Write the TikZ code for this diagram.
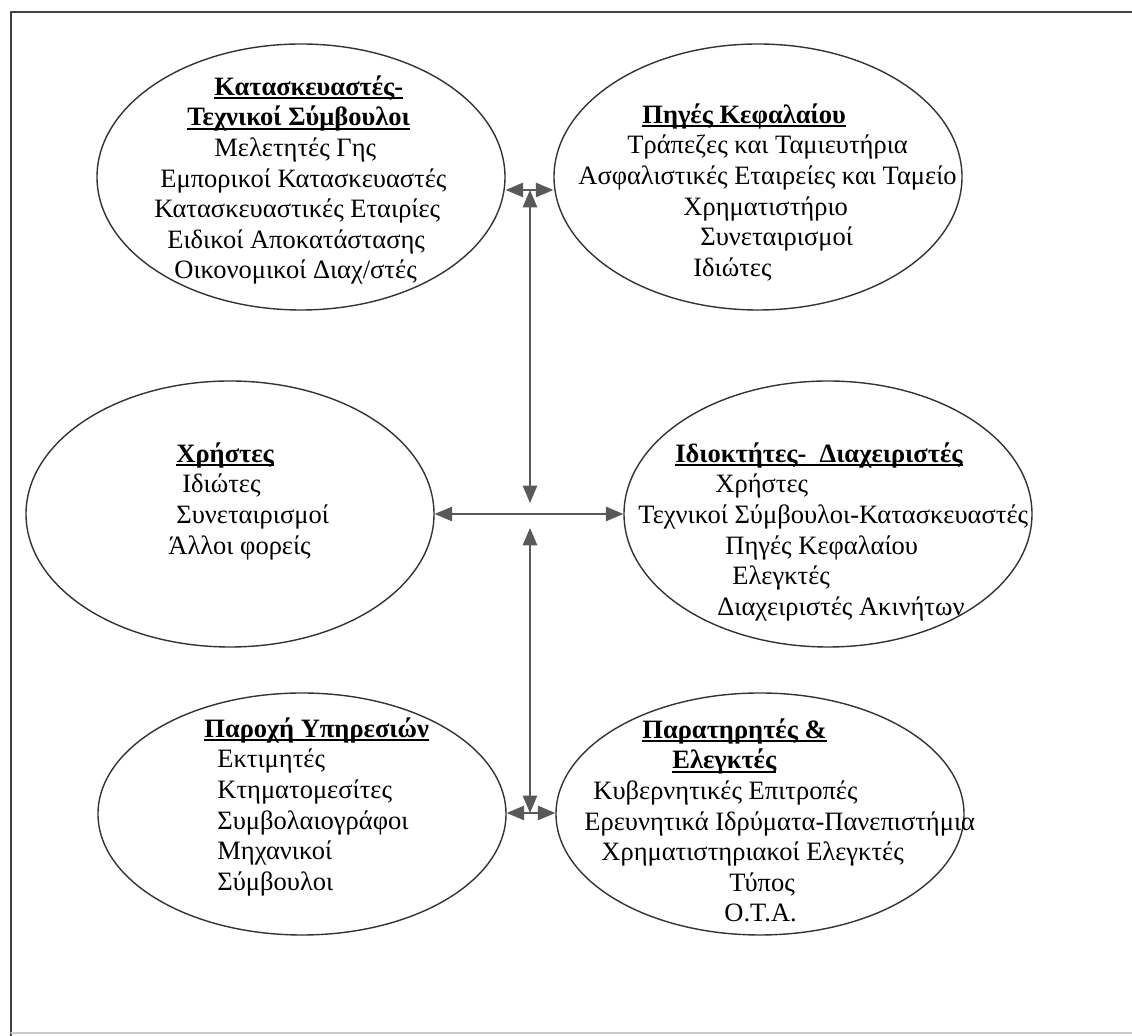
\documentclass[tikz,border=0pt]{standalone}
\usepackage{fontspec}
\setmainfont{Liberation Serif}
\usetikzlibrary{arrows}
\usetikzlibrary{shapes.geometric}
\newcommand{\headul}[1]{\setbox0=\hbox{\bfseries #1}\rlap{\rule[-2pt]{\wd0}{1pt}}\box0}
\newcommand{\topstrut}{\rule{0pt}{10pt}}

\begin{document}
\begin{tikzpicture}[line cap=round,line join=round,>=triangle 45,x=0.5pt,y=-0.5pt,
  oval/.style={ellipse,draw=black!80,line width=0.7pt,inner sep=0pt,minimum width=204pt,minimum height=133pt},
  lines/.style={anchor=north west,align=left,inner sep=0pt,font=\fontsize{13.25}{15.3}\selectfont},
  link/.style={<->,draw=black!65,line width=1pt}]
\useasboundingbox (0,0) rectangle (1132,1036);
\draw[black!75,line width=1pt] (1132,12)--(11,12)--(11,1036);
\draw[black!20,line width=0.6pt] (11,1033)--(1132,1033);
% ellipses
\node[oval] (e1) at (301,177) {};
\node[oval] (e2) at (758,177) {};
\node[oval] (e3) at (230,514) {};
\node[oval] (e4) at (828,514) {};
\node[oval,minimum height=121pt] (e5) at (302,814) {};
\node[oval,minimum height=121pt] (e6) at (760,814) {};
% texts
\node[lines] (t1) at (154,75) {\hspace*{30pt}\topstrut\headul{Κατασκευαστές-}\\
  \hspace*{16.5pt}\headul{Τεχνικοί Σύμβουλοι}\\
  \hspace*{30pt}Μελετητές Γης\\
  \hspace*{3pt}Εμπορικοί Κατασκευαστές\\
  Κατασκευαστικές Εταιρίες\\
  \hspace*{6.5pt}Ειδικοί Αποκατάστασης\\
  \hspace*{10pt}Οικονομικοί Διαχ/στές};
\node[lines] (t2) at (578,103) {\hspace*{32pt}\topstrut\headul{Πηγές Κεφαλαίου}\\
  \hspace*{24.5pt}Τράπεζες και Ταμιευτήρια\\
  Ασφαλιστικές Εταιρείες και Ταμείο\\
  \hspace*{52.5pt}Χρηματιστήριο\\
  \hspace*{61pt}Συνεταιρισμοί\\
  \hspace*{57.5pt}Ιδιώτες};
\node[lines] (t3) at (168,442) {\hspace*{4pt}\topstrut\headul{Χρήστες}\\
  \hspace*{7pt}Ιδιώτες\\
  \hspace*{4pt}Συνεταιρισμοί\\
  Άλλοι φορείς};
\node[lines] (t4) at (638,442) {\hspace*{18.5pt}\topstrut\headul{Ιδιοκτήτες-\ \ Διαχειριστές}\\
  \hspace*{38.5pt}Χρήστες\\
  Τεχνικοί Σύμβουλοι-Κατασκευαστές\\
  \hspace*{43.5pt}Πηγές Κεφαλαίου\\
  \hspace*{47pt}Ελεγκτές\\
  \hspace*{39.5pt}Διαχειριστές Ακινήτων};
\node[lines] (t5) at (204,717) {\topstrut\headul{Παροχή Υπηρεσιών}\\
  \hspace*{6.5pt}Εκτιμητές\\
  \hspace*{6.5pt}Κτηματομεσίτες\\
  \hspace*{6.5pt}Συμβολαιογράφοι\\
  \hspace*{6.5pt}Μηχανικοί\\
  \hspace*{6.5pt}Σύμβουλοι};
\node[lines] (t6) at (584,718) {\hspace*{29pt}\topstrut\headul{Παρατηρητές \&}\\
  \hspace*{44pt}\headul{Ελεγκτές}\\
  \hspace*{4.5pt}Κυβερνητικές Επιτροπές\\
  Ερευνητικά Ιδρύματα-Πανεπιστήμια\\
  \hspace*{8.5pt}Χρηματιστηριακοί Ελεγκτές\\
  \hspace*{72.5pt}Τύπος\\
  \hspace*{70pt}Ο.Τ.Α.};
% arrows
\coordinate (jt) at (530,190);
\coordinate (c1) at (530,503);
\coordinate (c2) at (530,528);
\coordinate (jb) at (530,813);
\draw[link] (e1.east |- jt)--(e2.west |- jt);
\draw[link] (jt)--(c1);
\draw[link] (e3.east)--(e4.west);
\draw[link] (c2)--(jb);
\draw[link] (e5.east |- jb)--(e6.west |- jb);
\end{tikzpicture}
\end{document}
